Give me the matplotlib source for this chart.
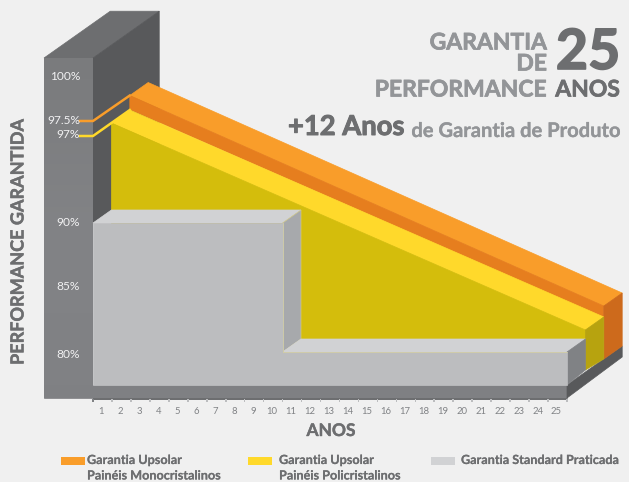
import matplotlib
matplotlib.use("Agg")
import matplotlib.pyplot as plt
import matplotlib.patheffects as pe
import numpy as np
from matplotlib.patches import Polygon, Rectangle

plt.rcParams["font.family"] = ["Lato", "DejaVu Sans"]

# warranty curves
years = list(range(1, 26))
standard_years = [0, 10, 10, 25]
standard_perf = [90, 90, 80, 80]
poly_years = [0, 25]
poly_perf = [97, 80.7]
mono_years = [0, 25]
mono_perf = [97.5, 81.55]

# the printed axis is not linear near the top
axis_perf = [80, 85, 90, 97, 97.5, 100, 101.5]
axis_px = [352, 287.5, 223, 136, 121.5, 77, 58]
perf_ticks = ["100%", "97.5%", "97%", "90%", "85%", "80%"]
perf_tick_y = [78, 121, 136, 224, 288, 356]

BG = "#f0f0f0"
GREY_TEXT = "#808285"
DARK_TEXT = "#6d6e70"


def px(year, perf, depth=0.0):
    """Map a year / performance value on a depth plane to picture pixels."""
    x = 93 + 18.96 * np.asarray(year, dtype=float) + 18.4 * depth
    y = np.interp(perf, axis_perf, axis_px) - 13.0 * depth
    return x, y


def face(ax, pts, color, z, edge=None):
    ax.add_patch(Polygon(pts, closed=True, facecolor=color, edgecolor=edge or color,
                         linewidth=0.5, zorder=z))


def heavy(ax, x, y, text, size, color, ha="left", stroke=0.3, **kw):
    t = ax.text(x, y, text, ha=ha, va="center", fontsize=size, fontweight="bold", color=color, **kw)
    t.set_path_effects([pe.withStroke(linewidth=stroke, foreground=color)])
    return t


fig = plt.figure(figsize=(6.29, 4.82), dpi=100, facecolor=BG)
ax = fig.add_axes([0, 0, 1, 1])
ax.set_xlim(0, 629)
ax.set_ylim(482, 0)
ax.axis("off")

# wall
wall_top = 101.5
wall_depth = 3.6
a = px(0, wall_top)
b = px(0, wall_top, wall_depth)
face(ax, [(44, a[1]), (44 + b[0] - a[0], b[1]), b, a], "#6d6e70", 1)
c = px(0, 90)
d = px(0, 90, wall_depth)
face(ax, [a, b, d, c], "#58595b", 1)
wall = Rectangle((44, 58), 49, 340, facecolor="none", edgecolor="none", zorder=2)
ax.add_patch(wall)
shade = np.linspace(0, 1, 64).reshape(-1, 1)
img = ax.imshow(shade, extent=(44, 93, 398, 58), aspect="auto", zorder=2,
                cmap=matplotlib.colors.LinearSegmentedColormap.from_list(
                    "wall", ["#7a7b7d", "#828386", "#808184"]))
img.set_clip_path(wall)
ax.set_xlim(0, 629)
ax.set_ylim(482, 0)

# base slab
p25 = px(25, 80)
face(ax, [(44, 385), (p25[0], 385), (p25[0], 398), (44, 398)], "#7f8083", 3)
ax.add_patch(Rectangle((93, 398), p25[0] - 93, 1.6, facecolor="#6d6e70", zorder=3))
end_orange = px(25, mono_perf[1], 3)
face(ax, [(p25[0], 385), (end_orange[0], 346), (end_orange[0], 357), (p25[0], 398)], "#58595b", 3)

# mono band
x0, y0 = px(mono_years, mono_perf, 2)
x1, y1 = px(mono_years, mono_perf, 3)
face(ax, [(x0[0], y0[0]), (x1[0], y1[0]), (x1[1], y1[1]), (x0[1], y0[1])], "#f99d2a", 5)
face(ax, [(x0[0], y0[0]), (x0[1], y0[1]), (x0[1], y0[1] + 12), (x0[0], y0[0] + 14)], "#e67e1e", 5)
face(ax, [(x0[1], y0[1]), (x1[1], y1[1]), (x1[1], 346), (x0[1], 359)], "#cd6a1c", 5)

# poly band
x2, y2 = px(poly_years, poly_perf, 1)
x3, y3 = px(poly_years, poly_perf, 2)
face(ax, [(x2[0], y2[0]), (x3[0], y3[0]), (x3[1], y3[1]), (x2[1], y2[1])], "#ffd92b", 6)
face(ax, [(x2[0], y2[0]), (x2[1], y2[1]), px(25, 80, 1), px(0, 80, 1)], "#d4bd0c", 6)
face(ax, [(x2[1], y2[1]), (x3[1], y3[1]), (x3[1], 359), (x2[1], 370)], "#b7a30f", 6)

# standard warranty block
sx, sy = px(standard_years, standard_perf)
tx, ty = px(standard_years, standard_perf, 1)
face(ax, [(sx[0], sy[0]), (tx[0], ty[0]), (tx[1], ty[1]), (sx[1], sy[1])], "#d1d2d4", 7)
face(ax, [(sx[1], sy[1]), (tx[1], ty[1]), (tx[2], ty[2]), (sx[2], sy[2])], "#a7a9ac", 7, "#cfc88f")
face(ax, [(sx[2], sy[2]), (tx[2], ty[2]), (tx[3], ty[3]), (sx[3], sy[3])], "#d1d2d4", 7)
face(ax, [(sx[3], sy[3]), (tx[3], ty[3]), (tx[3], 370), (sx[3], 385)], "#808285", 7)
face(ax, [(sx[0], sy[0]), (sx[1], sy[1]), (sx[2], sy[2]), (sx[3], sy[3]), (sx[3], 385), (sx[0], 385)],
     "#bcbdbf", 8)
ax.plot(sx[1:3], sy[1:3], color="#d6d0a0", lw=0.5, zorder=9)
ax.plot(sx[2:], sy[2:], color="#d6d0a0", lw=0.5, zorder=9)

# leader lines from the wall labels
ax.plot([80, 93, x0[0]], [121, 121, y0[0]], color="#f99d2a", lw=1.8, zorder=10, solid_joinstyle="miter")
ax.plot([80, 93, x3[0]], [136, 136, y3[0]], color="#ffd92b", lw=1.8, zorder=10, solid_joinstyle="miter")

for label, y in zip(perf_ticks, perf_tick_y):
    ax.text(80, y - 1, label, ha="right", va="center", fontsize=8.6, color="#f1f1f2", zorder=11)

# year ticks
for year in years:
    ax.add_patch(Rectangle((px(year, 80)[0] - 0.8, 399), 1.6, 3, facecolor="#bcbdbf", zorder=3))
    ax.text(px(year, 80)[0] - 10.5, 411, str(year), ha="center", va="center", fontsize=6.8, color=GREY_TEXT)
ax.add_patch(Rectangle((92.2, 399), 1.6, 3, facecolor="#808285", zorder=3))

heavy(ax, 18, 242, "PERFORMANCE GARANTIDA", 13, DARK_TEXT, ha="center", rotation=90)
heavy(ax, 331, 431, "ANOS", 12.5, DARK_TEXT, ha="center")

# header
for text, y in zip(["GARANTIA", "DE", "PERFORMANCE"], [43, 64, 90]):
    heavy(ax, 547, y, text, 16.5, "#939598", ha="right", stroke=0.5)
heavy(ax, 588, 53, "25", 40, DARK_TEXT, ha="center", stroke=1.2)
heavy(ax, 620, 90, "ANOS", 16.5, DARK_TEXT, ha="right", stroke=0.5)
heavy(ax, 288, 127, "+12 Anos", 19.7, DARK_TEXT, stroke=0.7)
heavy(ax, 621, 131, "de Garantia de Produto", 14.5, "#939598", ha="right", stroke=0.2)

# legend
legend_x = [61, 248, 431]
legend_colors = ["#f99d2a", "#ffd92b", "#d1d2d4"]
legend_text_x = [87, 279, 461]
legend_text = ["Garantia Upsolar\nPainéis Monocristalinos", "Garantia Upsolar\nPainéis Policristalinos",
               "Garantia Standard Praticada"]
for lx, col, tx_, label in zip(legend_x, legend_colors, legend_text_x, legend_text):
    ax.add_patch(Rectangle((lx, 457), 24, 8, facecolor=col, zorder=3))
    for i, line in enumerate(label.split("\n")):
        heavy(ax, tx_, 460 + 15.5 * i, line, 9.1, DARK_TEXT, stroke=0.1)

fig.savefig("out.png", dpi=100, facecolor=BG)
